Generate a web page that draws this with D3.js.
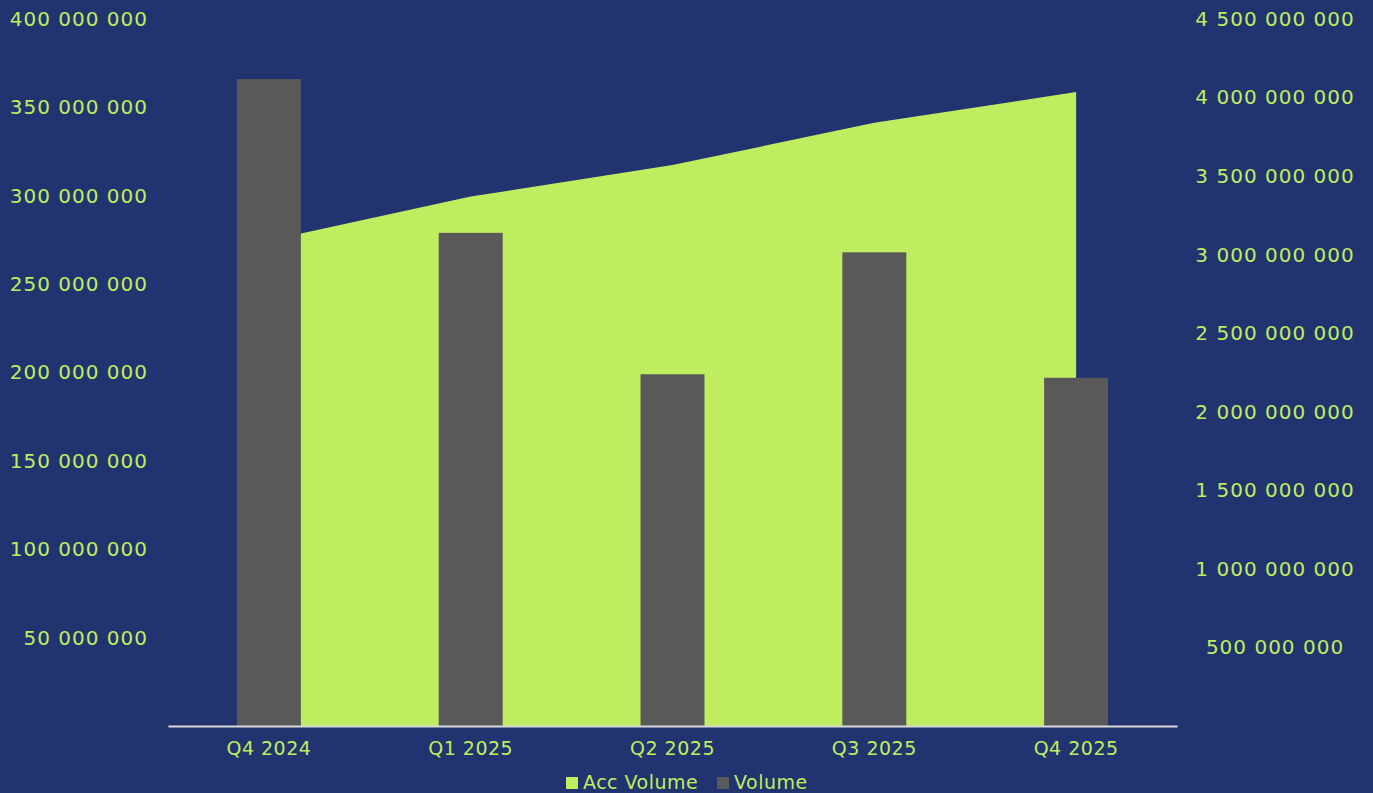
<!DOCTYPE html>
<html lang="en">
  <head>
    <meta charset="utf-8"/>
    <title>Volume</title>
    <script src="https://d3js.org/d3.v7.min.js"></script>
    <style>
      html, body { margin: 0; padding: 0; background: #22346f; }
      svg text { font-family: "DejaVu Sans", sans-serif; fill: #c0ed5f; }
    </style>
  </head>
  <body>
    <div id="chart"></div>
    <script>
     // data
     const quarters = ["Q4 2024", "Q1 2025", "Q2 2025", "Q3 2025", "Q4 2025"];
     const volume = [366e6, 279e6, 199e6, 268e6, 197e6];
     const accVolume = [3090e6, 3370e6, 3570e6, 3840e6, 4035e6];
     const leftTicks = [50e6, 100e6, 150e6, 200e6, 250e6, 300e6, 350e6, 400e6];
     const rightTicks = [500e6, 1000e6, 1500e6, 2000e6, 2500e6, 3000e6, 3500e6, 4000e6, 4500e6];
     const legendItems = ["Acc Volume", "Volume"];

     const svgWidth = 1373, svgHeight = 793;
     const green = "#c0ed5f", grey = "#595959";

     let svg = d3.select("#chart")
                 .append("svg")
                 .attr("width", svgWidth)
                 .attr("height", svgHeight);

     svg.append("rect")
        .attr("width", svgWidth)
        .attr("height", svgHeight)
        .attr("fill", "#22346f");

     let xScale = d3.scaleBand()
                    .domain(quarters)
                    .range([168, 1177])
                    .paddingInner(0.683)
                    .paddingOuter(0.3415);

     let yLeft = d3.scaleLinear()
                   .domain([0, 400e6])
                   .range([726, 19]);

     let yRight = d3.scaleLinear()
                    .domain([0, 4.5e9])
                    .range([726, 19]);

     const fmt = v => d3.format(",")(v).replace(/,/g, " ");
     const cx = q => xScale(q) + xScale.bandwidth() / 2;

     // accumulated volume area (right axis)
     let area = d3.area()
                  .x((d, i) => cx(quarters[i]))
                  .y0(yRight(0))
                  .y1(d => yRight(d));

     svg.append("path")
        .datum(accVolume)
        .attr("fill", green)
        .attr("d", area);

     // volume bars (left axis)
     svg.selectAll("rect.bar")
        .data(volume)
        .join("rect")
        .attr("class", "bar")
        .attr("x", (d, i) => xScale(quarters[i]))
        .attr("y", d => yLeft(d))
        .attr("width", xScale.bandwidth())
        .attr("height", d => yLeft(0) - yLeft(d))
        .attr("fill", grey);

     let leftAxis = svg.append("g")
                       .attr("transform", "translate(148, 0)")
                       .call(d3.axisLeft(yLeft).tickValues(leftTicks).tickFormat(fmt).tickSize(0).tickPadding(0));
     leftAxis.select(".domain").remove();

     let rightAxis = svg.append("g")
                        .attr("transform", "translate(1275, 0)")
                        .call(d3.axisRight(yRight).tickValues(rightTicks).tickFormat(fmt).tickSize(0).tickPadding(0));
     rightAxis.select(".domain").remove();
     rightAxis.selectAll("text").attr("text-anchor", "middle");

     let xAxis = svg.append("g")
                    .attr("transform", "translate(0, 726)")
                    .call(d3.axisBottom(xScale).tickSize(0).tickSizeOuter(0).tickPadding(16));
     xAxis.select(".domain").attr("stroke", "#d9d9d9").attr("stroke-width", 2);

     svg.selectAll("g.tick text")
        .attr("font-family", null)
        .attr("font-size", 20)
        .attr("letter-spacing", 1)
        .attr("fill", green);
     xAxis.selectAll("text")
          .attr("font-size", 19)
          .attr("letter-spacing", 0.5);

     // legend
     let legend = svg.append("g").attr("transform", "translate(566, 782)");
     const legendX = [0, 151];
     const legendColor = [green, grey];
     legend.selectAll("rect")
           .data(legendItems)
           .join("rect")
           .attr("x", (d, i) => legendX[i])
           .attr("y", -5)
           .attr("width", 12)
           .attr("height", 12)
           .attr("fill", (d, i) => legendColor[i]);
     legend.selectAll("text")
           .data(legendItems)
           .join("text")
           .attr("x", (d, i) => legendX[i] + 17)
           .attr("y", 0)
           .attr("dy", "0.35em")
           .attr("font-size", 19)
           .attr("letter-spacing", 0.5)
           .text(d => d);
    </script>
  </body>
</html>
